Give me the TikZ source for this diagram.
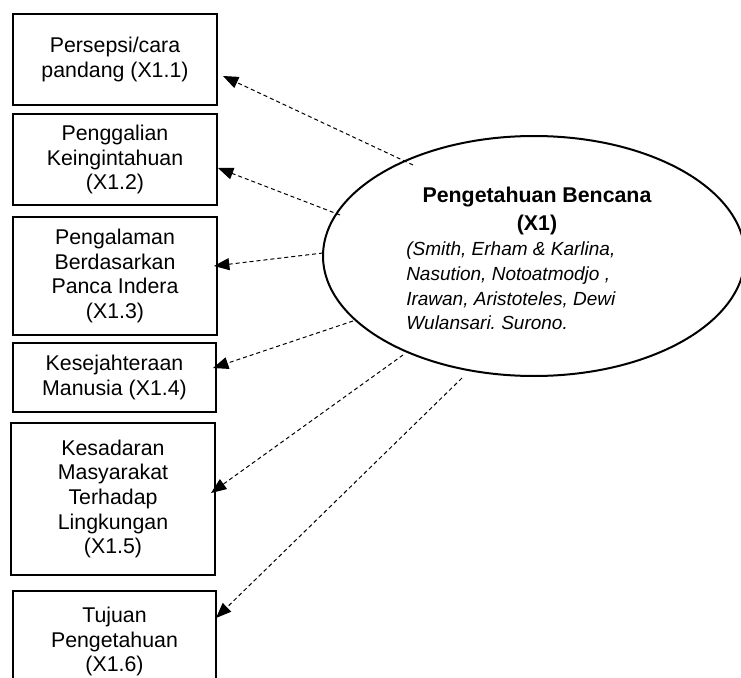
\documentclass[tikz,border=0pt]{standalone}
\usepackage{fontspec}
\setmainfont{Liberation Sans}
\usetikzlibrary{shapes.geometric,arrows.meta,calc}
\frenchspacing
\begin{document}
\begin{tikzpicture}[x=0.75pt,y=-0.75pt,
  box/.style={draw, line width=1.5pt, align=center, inner sep=0pt,
    font=\fontsize{16}{18.4}\selectfont},
  link/.style={line width=0.75pt, dash pattern=on 3pt off 2.25pt,
    -{Triangle[length=11.5pt,width=9pt]}},
  bold/.style={anchor=base, inner sep=0pt, font=\bfseries\fontsize{16}{19}\selectfont},
  ital/.style={anchor=base west, inner sep=0pt, font=\itshape\fontsize{14.25}{18}\selectfont},
]
\useasboundingbox (0,0) rectangle (741,677);
\clip (0,0) rectangle (741,677);
\fill[white] (0,0) rectangle (741,677);

\node[box, minimum width=153pt, minimum height=68.25pt] (b1) at (115,59.5) {Persepsi/cara\\pandang (X1.1)};
\node[box, minimum width=153pt, minimum height=68.25pt] (b2) at (115,159.5) {Penggalian\\Keingintahuan\\(X1.2)};
\node[box, minimum width=153pt, minimum height=88.5pt] (b3) at (115,276) {Pengalaman\\Berdasarkan\\Panca Indera\\(X1.3)};
\node[box, minimum width=152.25pt, minimum height=51.75pt] (b4) at (114.5,377.5) {Kesejahteraan\\Manusia (X1.4)};
\node[box, minimum width=153pt, minimum height=114pt] (b5) at (113,499) {Kesadaran\\Masyarakat\\Terhadap\\Lingkungan\\(X1.5)};
\node[box, minimum width=152.25pt, minimum height=75.75pt] (b6) at (114.5,641.5) {Tujuan\\Pengetahuan\\(X1.6)};

\node[draw, ellipse, line width=1.5pt, minimum width=316.5pt, minimum height=180pt, inner sep=0pt] (x1) at (534,256) {};
\node[bold] (t1) at (537,203) {Pengetahuan Bencana};
\node[bold] (t2) at (537,230) {(X1)};
\node[ital] (t3) at (406,255) {(Smith, Erham \& Karlina,};
\node[ital] (t4) at (406,280) {Nasution, Notoatmodjo ,};
\node[ital] (t5) at (406,305) {Irawan, Aristoteles, Dewi};
\node[ital] (t6) at (406,329) {Wulansari. Surono.};

\coordinate (s1) at (413,165);
\coordinate (s2) at (340,215);
\coordinate (s3) at (323,253);
\coordinate (s4) at (353,321);
\coordinate (s5) at (403,355);
\coordinate (s6) at (462,378);

\draw[link] (s1) -- ($(b1.east)+(5,16.5)$);
\draw[link] (s2) -- ($(b2.east)+(0,8.5)$);
\draw[link] (s3) -- ($(b3.east)+(-4,-10)$);
\draw[link] (s4) -- ($(b4.east)+(-4,-9.5)$);
\draw[link] (s5) -- ($(b5.east)+(-5,-6)$);
\draw[link] (s6) -- ($(b6.east)+(-1,-23.5)$);
\end{tikzpicture}
\end{document}
